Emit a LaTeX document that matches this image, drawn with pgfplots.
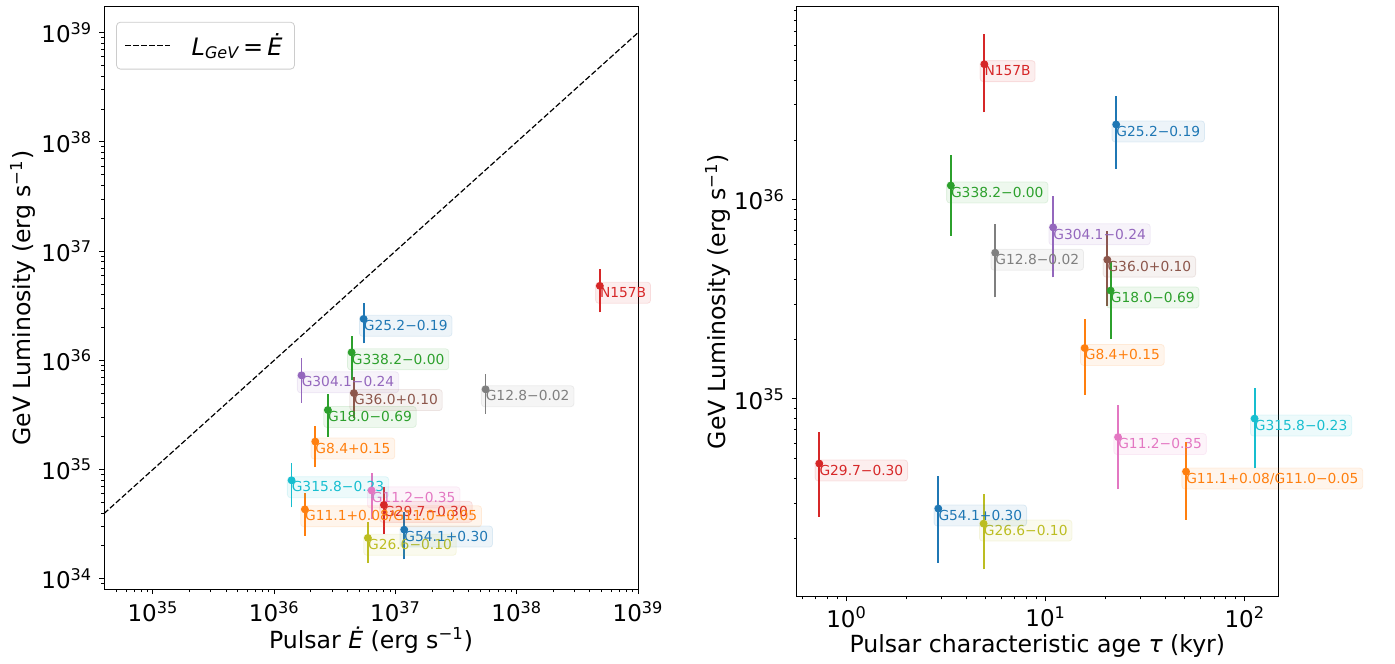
\documentclass[border=0pt]{standalone}
\usepackage{fontspec}
\setmainfont{DejaVu Sans}
\usepackage{pgfplots}
\pgfplotsset{compat=1.18}

\definecolor{tblue}{HTML}{1F77B4}
\definecolor{torange}{HTML}{FF7F0E}
\definecolor{tgreen}{HTML}{2CA02C}
\definecolor{tred}{HTML}{D62728}
\definecolor{tpurple}{HTML}{9467BD}
\definecolor{tbrown}{HTML}{8C564B}
\definecolor{tpink}{HTML}{E377C2}
\definecolor{tgray}{HTML}{7F7F7F}
\definecolor{tolive}{HTML}{BCBD22}
\definecolor{tcyan}{HTML}{17BECF}

\tikzset{lbl/.style={anchor=north west, xshift=-2.3pt, yshift=2pt, text=#1, fill=#1,
  fill opacity=0.08, draw=#1, draw opacity=0.12, text opacity=1, rounded corners=1.5pt,
  inner xsep=2.2pt, inner ysep=2.6pt, font=\fontsize{6.9}{8}\selectfont,
  text height=5pt, text depth=0.3pt, line width=0.4pt}}

% colour, Edot, tau (kyr), L, L low, L high, name
\newcommand{\alldata}{%
\P{tblue}{5.46e36}{22.6}{2.39e36}{1.43e36}{3.34e36}{G25.2−0.19}
\P{torange}{2.18e36}{15.7}{1.80e35}{1.05e35}{2.52e35}{G8.4+0.15}
\P{tgreen}{2.77e36}{21.2}{3.50e35}{2.00e35}{4.90e35}{G18.0−0.69}
\P{tred}{8.02e36}{0.73}{4.73e34}{2.56e34}{6.85e34}{G29.7−0.30}
\P{tpurple}{1.68e36}{10.9}{7.27e35}{4.08e35}{1.04e36}{G304.1−0.24}
\P{tbrown}{4.54e36}{20.4}{5.00e35}{2.94e35}{6.98e35}{G36.0+0.10}
\P{tpink}{6.35e36}{23.1}{6.42e34}{3.52e34}{9.30e34}{G11.2−0.35}
\P{tgray}{5.53e37}{5.58}{5.42e35}{3.24e35}{7.55e35}{G12.8−0.02}
\P{tolive}{5.92e36}{4.88}{2.36e34}{1.39e34}{3.32e34}{G26.6−0.10}
\P{tcyan}{1.39e36}{112}{7.96e34}{4.49e34}{1.14e35}{G315.8−0.23}
\P{tblue}{1.18e37}{2.89}{2.81e34}{1.50e34}{4.09e34}{G54.1+0.30}
\P{torange}{1.79e36}{50.7}{4.31e34}{2.47e34}{6.10e34}{G11.1+0.08/G11.0−0.05}
\P{tgreen}{4.35e36}{3.34}{1.18e36}{6.60e35}{1.68e36}{G338.2−0.00}
\P{tred}{4.84e38}{4.92}{4.80e36}{2.75e36}{6.80e36}{N157B}
}

\newcommand{\plotsL}{\def\P##1##2##3##4##5##6##7{%
  \addplot[##1, line width=0.9pt, forget plot] coordinates {(##2,##5) (##2,##6)};
  \addplot[##1, only marks, mark=*, mark size=1.75pt, forget plot] coordinates {(##2,##4)};}\alldata}
\newcommand{\labsL}{\def\P##1##2##3##4##5##6##7{%
  \node[lbl=##1] at (axis cs:##2,##4) {##7};}\alldata}
\newcommand{\plotsR}{\def\P##1##2##3##4##5##6##7{%
  \addplot[##1, line width=0.9pt, forget plot] coordinates {(##3,##5) (##3,##6)};
  \addplot[##1, only marks, mark=*, mark size=1.75pt, forget plot] coordinates {(##3,##4)};}\alldata}
\newcommand{\labsR}{\def\P##1##2##3##4##5##6##7{%
  \node[lbl=##1] at (axis cs:##3,##4) {##7};}\alldata}

\pgfplotsset{mpl/.style={
  scale only axis, clip=false,
  axis line style={line width=0.5pt},
  tick align=outside, xtick pos=bottom, ytick pos=left,
  major tick length=2.4pt, minor tick length=1.4pt,
  every tick/.style={black, line width=0.5pt},
  every minor tick/.style={black, line width=0.4pt},
  label style={font=\fontsize{11.8}{14}\selectfont},
  tick label style={font=\fontsize{11.5}{13}\selectfont},
}}

\begin{document}
\begin{tikzpicture}
\useasboundingbox (0,0) rectangle (697.5pt,331.5pt);
\begin{axis}[mpl,
  at={(52pt,36.85pt)}, anchor=south west,
  width=267pt, height=291.3pt,
  xmode=log, ymode=log,
  xmin=3.95e34, xmax=1e39, ymin=8.0e33, ymax=1.73e39,
  xtick={1e35,1e36,1e37,1e38,1e39},
  xticklabels={10\textsuperscript{35},10\textsuperscript{36},10\textsuperscript{37},10\textsuperscript{38},10\textsuperscript{39}},
  ytick={1e34,1e35,1e36,1e37,1e38,1e39},
  yticklabels={10\textsuperscript{34},10\textsuperscript{35},10\textsuperscript{36},10\textsuperscript{37},10\textsuperscript{38},10\textsuperscript{39}},
  minor xtick={5e34,6e34,7e34,8e34,9e34,2e35,3e35,4e35,5e35,6e35,7e35,8e35,9e35,2e36,3e36,4e36,5e36,6e36,7e36,8e36,9e36,2e37,3e37,4e37,5e37,6e37,7e37,8e37,9e37,2e38,3e38,4e38,5e38,6e38,7e38,8e38,9e38},
  minor ytick={9e33,2e34,3e34,4e34,5e34,6e34,7e34,8e34,9e34,2e35,3e35,4e35,5e35,6e35,7e35,8e35,9e35,2e36,3e36,4e36,5e36,6e36,7e36,8e36,9e36,2e37,3e37,4e37,5e37,6e37,7e37,8e37,9e37,2e38,3e38,4e38,5e38,6e38,7e38,8e38,9e38},
  xlabel={Pulsar {\itshape Ė} (erg s\textsuperscript{−1})},
  ylabel={GeV Luminosity (erg s\textsuperscript{−1})},
  xlabel style={at={(axis description cs:0.5,-0.0869)}, anchor=center},
  ylabel style={at={(axis description cs:-0.152,0.5)}, anchor=center},
  legend style={at={(0.0225,0.974)}, anchor=north west, draw=black!20, rounded corners=2pt,
    fill=white, font=\fontsize{12}{14}\selectfont, inner xsep=4pt, inner ysep=3.5pt},
  legend cell align=left,
  legend image code/.code={\draw[#1] (0pt,0pt) -- (22.5pt,0pt);},
]
\addplot[black, line width=0.6pt, dash pattern=on 2.8pt off 1.2pt] coordinates {(3.95e34,3.95e34) (1e39,1e39)};
\addlegendentry{\hspace{8.5pt}{\itshape L}\textsubscript{\itshape GeV}\,=\,{\itshape Ė}\hspace{2pt}}
\plotsL
\labsL
\end{axis}

\begin{axis}[mpl,
  at={(398.35pt,33.15pt)}, anchor=south west,
  width=240.65pt, height=295pt,
  xmode=log, ymode=log,
  xmin=0.562, xmax=146.8, ymin=1.015e34, ymax=9.35e36,
  xtick={1,10,100},
  xticklabels={10\textsuperscript{0},10\textsuperscript{1},10\textsuperscript{2}},
  xticklabel style={yshift=1pt},
  ytick={1e35,1e36},
  yticklabels={10\textsuperscript{35},10\textsuperscript{36}},
  minor xtick={0.6,0.7,0.8,0.9,2,3,4,5,6,7,8,9,20,30,40,50,60,70,80,90},
  minor ytick={2e34,3e34,4e34,5e34,6e34,7e34,8e34,9e34,2e35,3e35,4e35,5e35,6e35,7e35,8e35,9e35,2e36,3e36,4e36,5e36,6e36,7e36,8e36,9e36},
  xlabel={Pulsar characteristic age {\itshape τ} (kyr)},
  ylabel={GeV Luminosity (erg s\textsuperscript{−1})},
  xlabel style={at={(axis description cs:0.5,-0.083)}, anchor=center},
  ylabel style={at={(axis description cs:-0.1635,0.5)}, anchor=center},
]
\plotsR
\labsR
\end{axis}
\end{tikzpicture}
\end{document}
